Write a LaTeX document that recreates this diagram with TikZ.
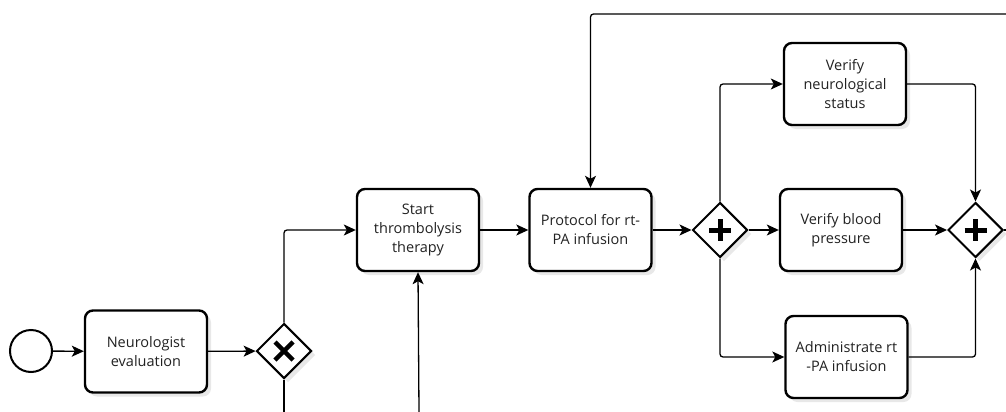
\documentclass[tikz,border=0pt]{standalone}
\usepackage{fontspec}
\setmainfont{Open Sans}
\usetikzlibrary{shapes.geometric,arrows.meta,shadows}
\definecolor{txt}{HTML}{222222}
\begin{document}
\begin{tikzpicture}[x=1pt,y=-1pt,
  task/.style={draw,line width=2.4pt,rounded corners=8pt,fill=white,
    minimum width=122pt,minimum height=82pt,align=center,inner sep=2pt,
    font=\fontsize{14.5}{19}\selectfont,text=txt,
    drop shadow={opacity=0.18,shadow xshift=4pt,shadow yshift=-4pt}},
  gw/.style={draw,diamond,line width=2pt,fill=white,minimum width=55pt,minimum height=55pt,inner sep=0pt,
    drop shadow={opacity=0.18,shadow xshift=4pt,shadow yshift=-4pt}},
  flow/.style={line width=1.3pt,rounded corners=3pt,-{Stealth[length=12pt,width=11pt,inset=3pt]}},
  plain/.style={line width=1.3pt,rounded corners=3pt}]
\useasboundingbox (0,0) rectangle (1006,412);
\node[draw,circle,line width=2pt,minimum size=42pt,inner sep=0pt,fill=white] (start) at (31,351) {};
\node[task] (neuro) at (146,351.5) {Neurologist\\evaluation};
\node[gw] (xgw) at (284,351) {};
\draw[line width=4.5pt] (275,342) -- (293,360) (275,360) -- (293,342);
\node[task] (st) at (418,230) {Start\\thrombolysis\\therapy};
\node[task] (prot) at (590.5,230) {Protocol for rt-\\PA infusion};
\node[gw] (pg1) at (720,230) {};
\draw[line width=5pt] (709,230) -- (731,230) (720,219) -- (720,241);
\node[task] (vbp) at (841,230) {Verify blood\\pressure};
\node[gw] (pg2) at (975.5,230) {};
\draw[line width=5pt] (964.5,230) -- (986.5,230) (975.5,219) -- (975.5,241);
\node[task] (vns) at (845,84) {Verify\\neurological\\status};
\node[task] (adm) at (846.5,357) {Administrate rt\\-PA infusion};
\coordinate (xbot) at (284,412);
\coordinate (stbot) at (419,412);
\coordinate (outr) at (1006,230);
\coordinate (loop) at (1006,14);
\draw[flow] (start) -- (neuro);
\draw[flow] (neuro) -- (xgw);
\draw[flow] (xgw.north) |- (st.west);
\draw[plain] (xgw.south) -- (xbot);
\draw[flow] (stbot) -- (st.south);
\draw[flow] (st) -- (prot);
\draw[flow] (prot) -- (pg1);
\draw[flow] (pg1) -- (vbp);
\draw[flow] (vbp) -- (pg2);
\draw[flow] (pg1.north) |- (vns.west);
\draw[flow] (pg1.south) |- (adm.west);
\draw[flow] (vns.east) -| (pg2.north);
\draw[flow] (adm.east) -| (pg2.south);
\draw[plain] (pg2.east) -- (outr);
\draw[flow] (loop) -| (prot.north);
\end{tikzpicture}
\end{document}
